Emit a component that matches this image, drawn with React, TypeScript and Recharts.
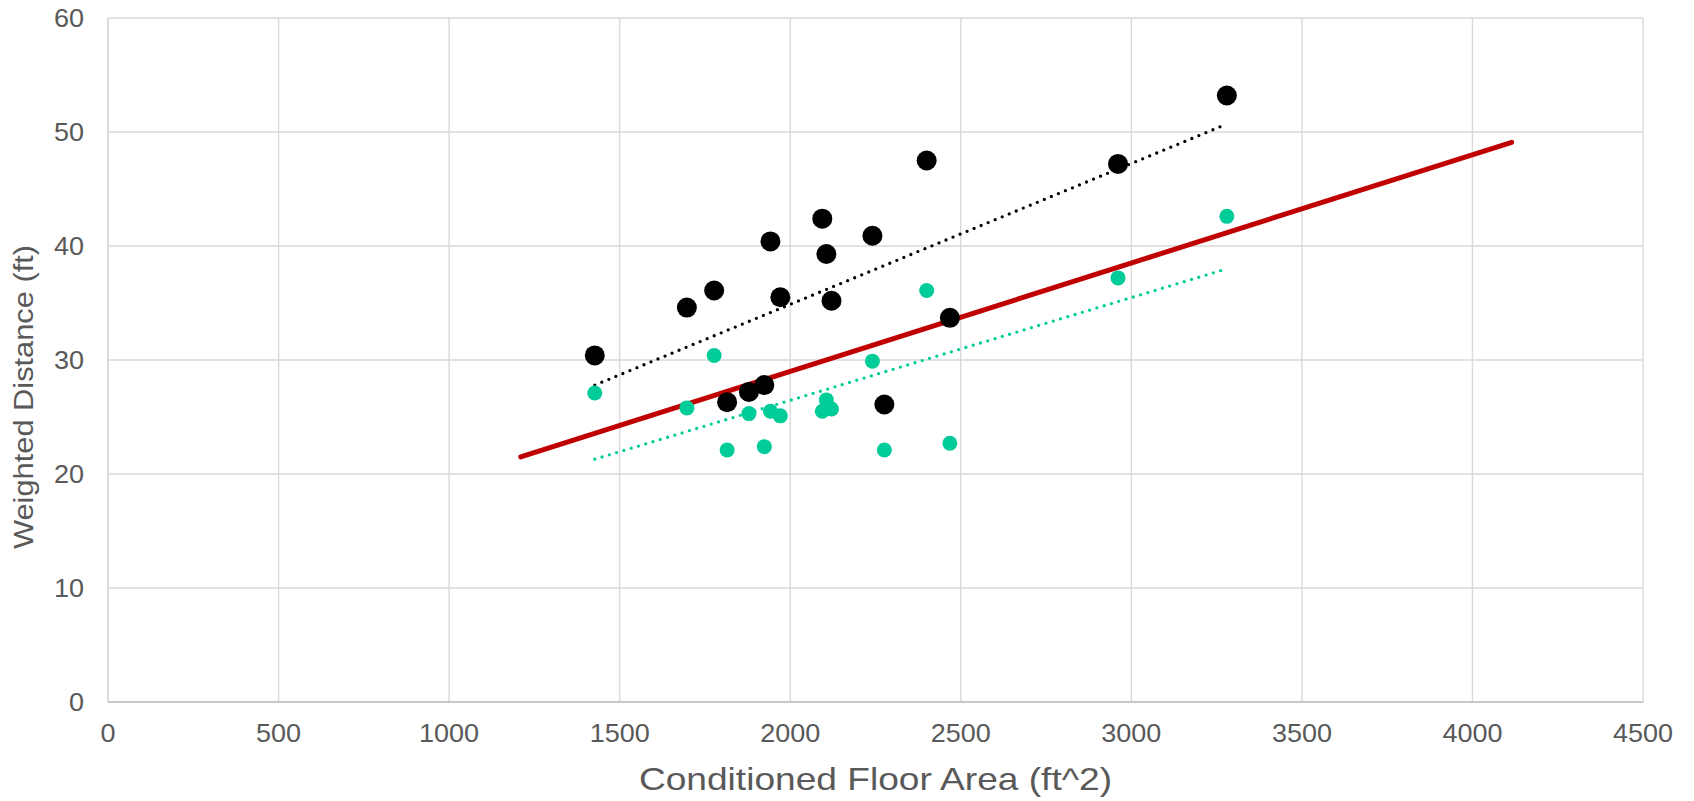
import { ScatterChart, Scatter, XAxis, YAxis, CartesianGrid, Label } from "recharts";

// houses: conditioned floor area vs weighted distance
const floorArea = [1427, 1697, 1777, 1815, 1879, 1924, 1942, 1971, 2094, 2106, 2121, 2241, 2276, 2400, 2468, 2961, 3280];
const distanceBlack = [30.4, 34.6, 36.1, 26.3, 27.2, 27.8, 40.4, 35.5, 42.4, 39.3, 35.2, 40.9, 26.1, 47.5, 33.7, 47.2, 53.2];
const distanceTeal = [27.1, 25.8, 30.4, 22.1, 25.3, 22.4, 25.5, 25.1, 25.5, 26.5, 25.7, 29.9, 22.1, 36.1, 22.7, 37.2, 42.6];

// trendline end points
const trendX = [1427, 3280];
const trendBlackY = [27.8, 50.7];
const trendTealY = [21.3, 38.0];
const refX = [1210, 4115];
const refY = [21.5, 49.1];

const xTicks = [0, 500, 1000, 1500, 2000, 2500, 3000, 3500, 4000, 4500];
const yTicks = [0, 10, 20, 30, 40, 50, 60];

const FONT = '"Liberation Sans", Arial, sans-serif';
const TEXT = "#595959";
const GRID = "#D9D9D9";
const STRETCH = 1.08;

const toPoints = (xs: number[], ys: number[]) => xs.map((x, i) => ({ x, y: ys[i] }));

const blackData = toPoints(floorArea, distanceBlack);
const tealData = toPoints(floorArea, distanceTeal);
const blackTrend = toPoints(trendX, trendBlackY);
const tealTrend = toPoints(trendX, trendTealY);
const refLine = toPoints(refX, refY);

const XTick = ({ x, y, payload }: any) => (
  <g transform={`translate(${x},${y})`}>
    <text transform={`scale(${STRETCH},1)`} textAnchor="middle" dy="0.71em" fill={TEXT} fontSize={25} fontFamily={FONT}>
      {payload.value}
    </text>
  </g>
);

const YTick = ({ x, y, payload }: any) => (
  <g transform={`translate(${x},${y})`}>
    <text transform={`scale(${STRETCH},1)`} textAnchor="end" dy="0.35em" fill={TEXT} fontSize={25} fontFamily={FONT}>
      {payload.value}
    </text>
  </g>
);

const dot = (r: number, fill: string) => (props: any) =>
  <circle cx={props.cx} cy={props.cy} r={r} fill={fill} />;

const noDot = () => null;

export default function App() {
  return (
    <div style={{ position: "absolute", left: 0, top: 0, background: "#fff" }}>
      <ScatterChart width={1694} height={801} margin={{ top: 18, right: 51, bottom: 0, left: 0 }}>
        <CartesianGrid stroke={GRID} strokeWidth={1.4} />
        <XAxis
          type="number"
          dataKey="x"
          domain={[0, 4500]}
          ticks={xTicks}
          height={99}
          tickSize={0}
          tickMargin={22}
          tick={<XTick />}
          axisLine={{ stroke: "#BFBFBF", strokeWidth: 1.4 }}
          tickLine={false}
        >
          <Label
            content={({ viewBox }: any) => (
              <g transform={`translate(${viewBox.x + viewBox.width / 2},${viewBox.y + 77})`}>
                <text transform="scale(1.16,1)" textAnchor="middle" dy="0.35em" fill={TEXT} fontSize={32} fontFamily={FONT}>
                  Conditioned Floor Area (ft^2)
                </text>
              </g>
            )}
          />
        </XAxis>
        <YAxis
          type="number"
          dataKey="y"
          domain={[0, 60]}
          ticks={yTicks}
          width={108}
          tickSize={0}
          tickMargin={24}
          tick={<YTick />}
          axisLine={{ stroke: GRID, strokeWidth: 1.4 }}
          tickLine={false}
        >
          <Label
            content={({ viewBox }: any) => (
              <g transform={`translate(${viewBox.x + 23},397) rotate(-90) scale(1.1,1)`}>
                <text textAnchor="middle" dy="0.35em" fill={TEXT} fontSize={28} fontFamily={FONT}>
                  Weighted Distance (ft)
                </text>
              </g>
            )}
          />
        </YAxis>
        <Scatter
          data={refLine}
          fill="#C00000"
          shape={noDot}
          line={{ stroke: "#C00000", strokeWidth: 5, strokeLinecap: "round" }}
          isAnimationActive={false}
        />
        <Scatter
          data={tealTrend}
          fill="#00CC99"
          shape={noDot}
          line={{ stroke: "#00CC99", strokeWidth: 3.3, strokeDasharray: "0 7.6", strokeLinecap: "round" }}
          isAnimationActive={false}
        />
        <Scatter
          data={blackTrend}
          fill="#000000"
          shape={noDot}
          line={{ stroke: "#000000", strokeWidth: 3.3, strokeDasharray: "0 7.6", strokeLinecap: "round" }}
          isAnimationActive={false}
        />
        <Scatter data={tealData} fill="#00CC99" shape={dot(7.5, "#00CC99")} isAnimationActive={false} />
        <Scatter data={blackData} fill="#000000" shape={dot(10, "#000000")} isAnimationActive={false} />
      </ScatterChart>
    </div>
  );
}
